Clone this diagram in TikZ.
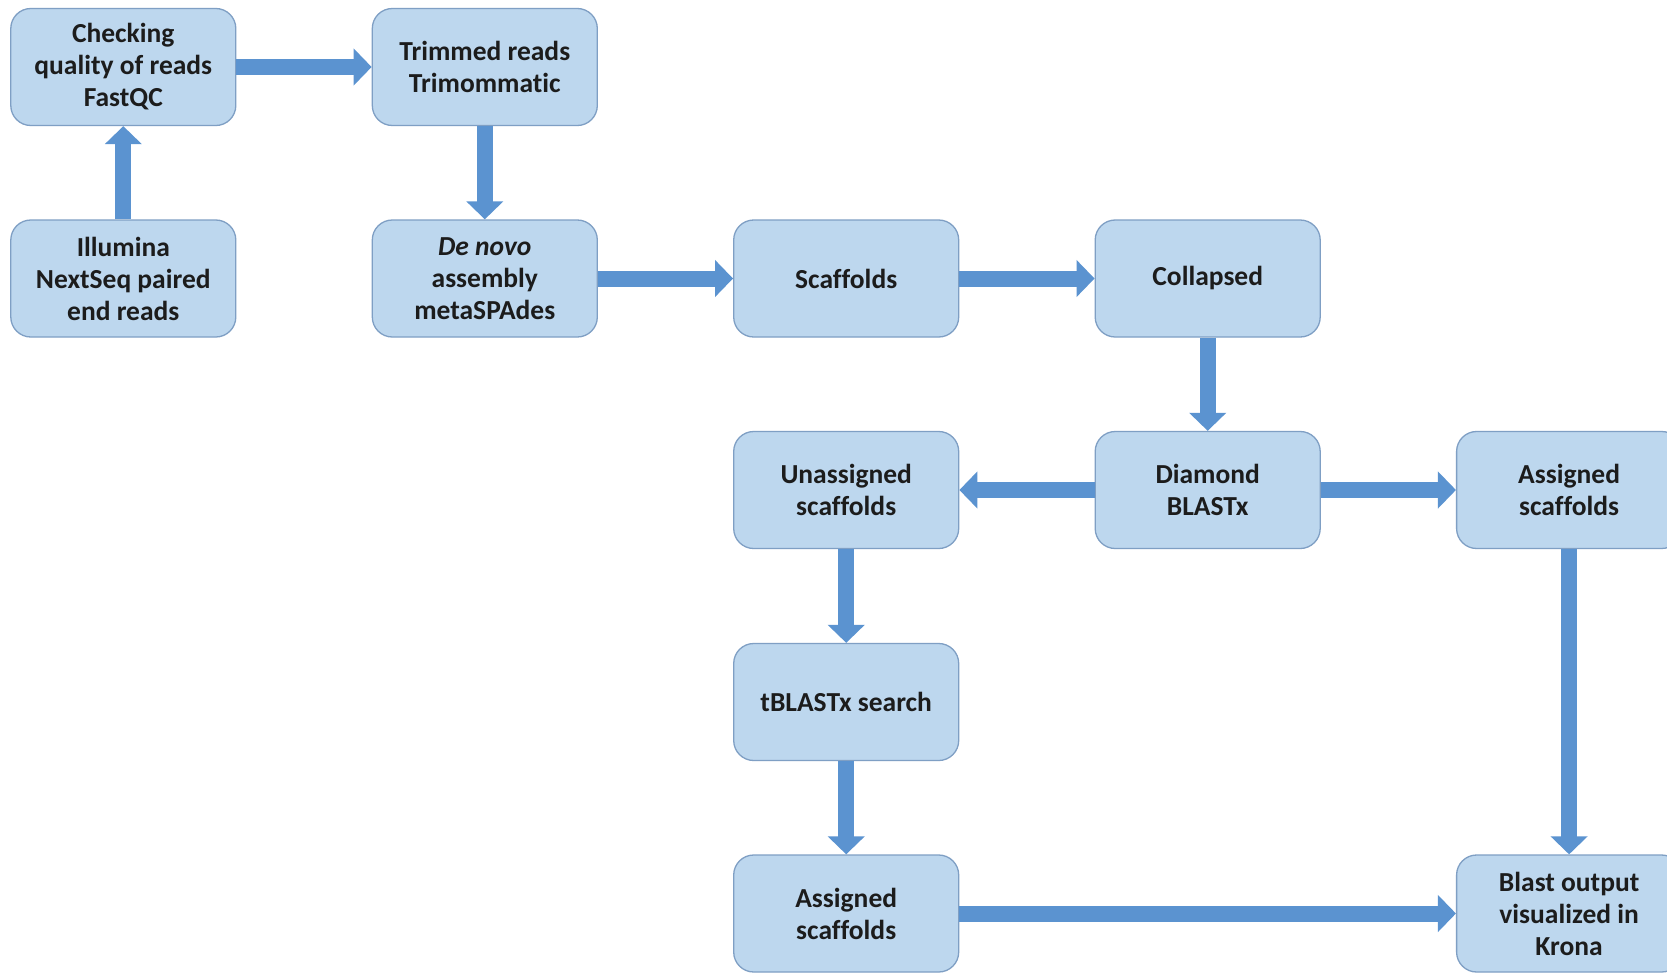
\documentclass[tikz,border=0pt]{standalone}
\usepackage{fontspec}
\setmainfont[Ligatures={NoCommon}]{Carlito}
\usetikzlibrary{arrows.meta}
\definecolor{boxfill}{HTML}{BDD7EE}
\definecolor{boxline}{HTML}{7F9FC4}
\definecolor{arrowcol}{HTML}{5B93D0}
\definecolor{txt}{HTML}{1C1C1C}
\begin{document}
\begin{tikzpicture}[x=1pt,y=-1pt,
  stepbox/.style={draw=boxline, line width=1.3pt, fill=boxfill, rounded corners=20pt,
    minimum width=225pt, minimum height=117pt, inner sep=0pt, align=center,
    text=txt, font=\fontsize{27.5}{32}\selectfont\bfseries},
  flow/.style={draw=arrowcol, line width=16pt, -{Triangle[width=36pt,length=18pt]}}]
\useasboundingbox (0,0) rectangle (1667,972);
\fill[white] (0,0) rectangle (1667,972);
\node[stepbox] (check) at (123.3,67) {Checking\\quality of reads\\FastQC};
\node[stepbox] (illu) at (123.3,278.5) {Illumina\\NextSeq paired\\end reads};
\node[stepbox] (trim) at (484.8,67) {Trimmed reads\\Trimommat\kern0pt ic};
\node[stepbox] (denovo) at (484.8,278.5) {\textit{De novo}\\assembly\\metaSPAdes};
\node[stepbox] (scaf) at (846.2,278.5) {Scaffolds};
\node[stepbox] (coll) at (1207.7,278.5) {Collapsed};
\node[stepbox] (diam) at (1207.7,490) {Diamond\\BLASTx};
\node[stepbox] (unas) at (846.2,490) {Unassigned\\scaffolds};
\node[stepbox] (asg1) at (1569.1,490) {Assigned\\scaffolds};
\node[stepbox] (tbl) at (846.2,702) {tBLASTx search};
\node[stepbox] (asg2) at (846.2,913.5) {Assigned\\scaffolds};
\node[stepbox] (krona) at (1569.1,913.5) {Blast output\\visualized in\\Krona};
\draw[flow] (illu.north) -- (check.south);
\draw[flow] (check.east) -- (trim.west);
\draw[flow] (trim.south) -- (denovo.north);
\draw[flow] (denovo.east) -- (scaf.west);
\draw[flow] (scaf.east) -- (coll.west);
\draw[flow] (coll.south) -- (diam.north);
\draw[flow] (diam.west) -- (unas.east);
\draw[flow] (diam.east) -- (asg1.west);
\draw[flow] (unas.south) -- (tbl.north);
\draw[flow] (tbl.south) -- (asg2.north);
\draw[flow] (asg2.east) -- (krona.west);
\draw[flow] (asg1.south) -- (krona.north);
\end{tikzpicture}
\end{document}
